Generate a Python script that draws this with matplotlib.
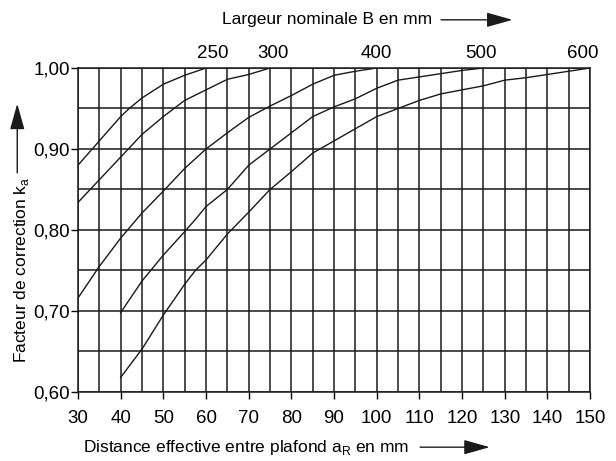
import matplotlib
matplotlib.use('Agg')
import matplotlib.pyplot as plt
from matplotlib.ticker import MultipleLocator, FuncFormatter

plt.rcParams['font.family'] = ['Liberation Sans', 'DejaVu Sans']

# largeur nominale B (mm) -> courbe ka = f(aR)
widths = ['250', '300', '400', '500', '600']

x_250 = [30, 35, 40, 42, 45, 50, 55, 60]
y_250 = [0.880, 0.910, 0.940, 0.950, 0.963, 0.980, 0.991, 1.000]

x_300 = [30, 35, 40, 45, 50, 55, 60, 65, 70, 75]
y_300 = [0.834, 0.862, 0.890, 0.918, 0.940, 0.960, 0.973, 0.986, 0.992, 1.000]

x_400 = [30, 35, 40, 45, 50, 55, 60, 65, 70, 75, 80, 85, 90, 95, 100]
y_400 = [0.716, 0.755, 0.790, 0.821, 0.848, 0.876, 0.900, 0.920, 0.939, 0.953,
         0.966, 0.980, 0.991, 0.996, 1.000]

x_500 = [40, 45, 50, 55, 57.5, 60, 65, 70, 75, 80, 85, 90, 95, 100, 105, 110,
         115, 120, 125]
y_500 = [0.698, 0.737, 0.769, 0.798, 0.813, 0.829, 0.850, 0.880, 0.900, 0.920,
         0.940, 0.952, 0.962, 0.975, 0.985, 0.989, 0.993, 0.997, 1.000]

x_600 = [40, 45, 50, 55, 57.5, 60, 65, 70, 75, 80, 85, 90, 95, 100, 105, 110,
         115, 120, 125, 130, 135, 140, 145, 150]
y_600 = [0.618, 0.653, 0.695, 0.733, 0.750, 0.763, 0.795, 0.822, 0.850, 0.872,
         0.895, 0.910, 0.925, 0.940, 0.950, 0.960, 0.968, 0.973, 0.978, 0.985,
         0.988, 0.992, 0.996, 1.000]

curves = [(x_250, y_250), (x_300, y_300), (x_400, y_400), (x_500, y_500), (x_600, y_600)]
label_dx = [1.5, 0.7, 0, -0.6, -1.7]   # petit décalage des étiquettes du haut

fig = plt.figure(figsize=(6.16, 4.61), dpi=100)
ax = fig.add_axes([0.1266, 0.1497, 0.8314, 0.7028])

for xs, ys in curves:
    ax.plot(xs, ys, color='#1a1a1a', lw=1.0)

ax.set_xlim(30, 150)
ax.set_ylim(0.60, 1.00)
ax.xaxis.set_major_locator(MultipleLocator(10))
ax.xaxis.set_minor_locator(MultipleLocator(5))
ax.yaxis.set_major_locator(MultipleLocator(0.1))
ax.yaxis.set_minor_locator(MultipleLocator(0.05))
ax.yaxis.set_major_formatter(FuncFormatter(lambda v, p: f'{v:.2f}'.replace('.', ',')))
ax.grid(which='both', color='#1a1a1a', lw=1.1)
ax.set_axisbelow(True)
ax.tick_params(which='major', direction='out', length=5, width=1, labelsize=13.5)
ax.tick_params(axis='x', pad=8)
ax.tick_params(axis='y', pad=1)
ax.tick_params(which='minor', length=0)
for s in ax.spines.values():
    s.set_color('#1a1a1a')
    s.set_linewidth(1.1)

# largeurs nominales au-dessus de la ligne 1,00
for (xs, ys), w, dx in zip(curves, widths, label_dx):
    ax.text(xs[-1] + dx, 1.008, w, ha='center', va='bottom', fontsize=13.5)

# titres avec flèches
fig.text(0.360, 0.957, 'Largeur nominale B en mm', ha='left', va='center', fontsize=12.5)
fig.text(0.135, 0.03, r'Distance effective entre plafond a$_\mathregular{R}$ en mm',
         ha='left', va='center', fontsize=12.5)
fig.text(0.035, 0.414, r'Facteur de correction k$_\mathregular{a}$', ha='center',
         va='center', rotation=90, fontsize=12.5)

arrow = dict(arrowstyle='-|>,head_length=1.6,head_width=0.45', color='#1a1a1a', lw=1.0,
             shrinkA=0, shrinkB=0)
ax.annotate('', xy=(0.832, 0.957), xytext=(0.716, 0.957), xycoords='figure fraction',
            textcoords='figure fraction', arrowprops=arrow)
ax.annotate('', xy=(0.795, 0.03), xytext=(0.682, 0.03), xycoords='figure fraction',
            textcoords='figure fraction', arrowprops=arrow)
ax.annotate('', xy=(0.028, 0.775), xytext=(0.028, 0.625), xycoords='figure fraction',
            textcoords='figure fraction', arrowprops=arrow)

fig.savefig('out.png', dpi=100)
